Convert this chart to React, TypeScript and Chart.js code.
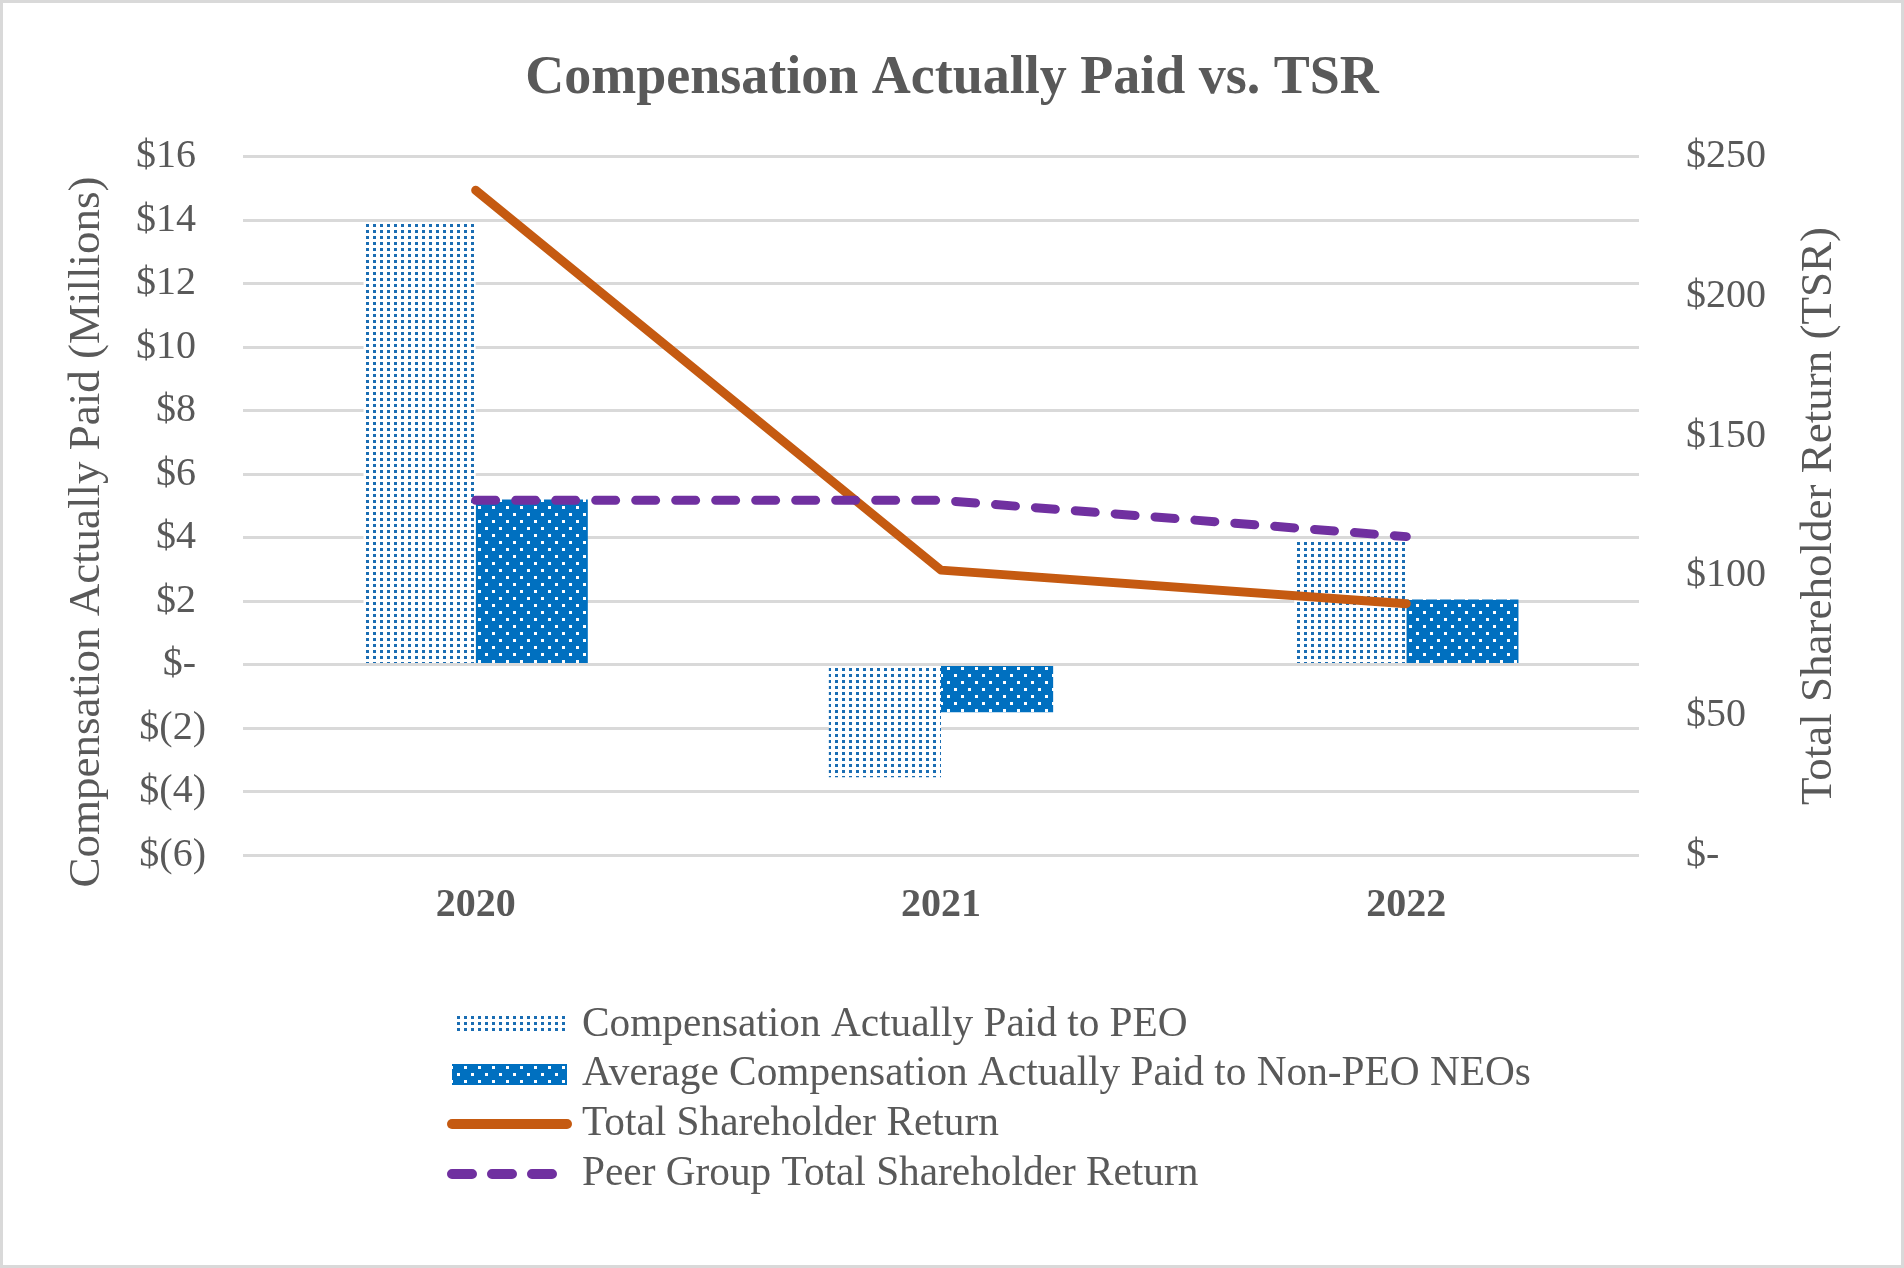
import React, { useEffect, useRef } from 'react';
import { Chart, registerables } from 'chart.js';

Chart.register(...registerables);

const categories = ['2020', '2021', '2022'];
const peoCap = [13.9, -3.55, 3.95];
const neoCap = [5.2, -1.5, 2.05];
const tsrValues = [238, 102, 90];
const peerTsrValues = [127, 127, 114];
const seriesNames = [
  'Compensation Actually Paid to PEO',
  'Average Compensation Actually Paid to Non-PEO NEOs',
  'Total Shareholder Return',
  'Peer Group Total Shareholder Return',
];
const chartTitle = 'Compensation Actually Paid vs. TSR';
const leftAxisTitle = 'Compensation Actually Paid (Millions)';
const rightAxisTitle = 'Total Shareholder Return (TSR)';

const FONT = "'Liberation Serif', 'Times New Roman', serif";
const TEXT = '#595959';
const TSR_COLOR = '#C55A11';
const PEER_COLOR = '#7030A0';

function makePeoPattern(): CanvasPattern | string {
  const c = document.createElement('canvas');
  c.width = 7;
  c.height = 6;
  const g = c.getContext('2d');
  if (!g) return '#9dc3e6';
  g.fillStyle = '#ffffff';
  g.fillRect(0, 0, 7, 6);
  g.fillStyle = '#1a6db3';
  g.fillRect(2, 2, 3, 3);
  return g.createPattern(c, 'repeat') || '#9dc3e6';
}

function makeNeoPattern(): CanvasPattern | string {
  const c = document.createElement('canvas');
  c.width = 14;
  c.height = 14;
  const g = c.getContext('2d');
  if (!g) return '#0070C0';
  g.fillStyle = '#0070C0';
  g.fillRect(0, 0, 14, 14);
  g.fillStyle = '#ffffff';
  g.fillRect(2, 2, 3, 3);
  g.fillRect(9, 9, 3, 3);
  return g.createPattern(c, 'repeat') || '#0070C0';
}

function leftLabel(v: number): string {
  if (v === 0) return '$- ';
  if (v < 0) return `$(${-v})`;
  return `$${v} `;
}

function rightLabel(v: number): string {
  if (v === 0) return '$-';
  return `$${v}`;
}

export default function App() {
  const canvasRef = useRef<HTMLCanvasElement | null>(null);

  useEffect(() => {
    const canvas = canvasRef.current;
    if (!canvas) return;
    const peoPattern = makePeoPattern();
    const neoPattern = makeNeoPattern();

    const extrasPlugin = {
      id: 'customExtras',
      afterDraw(chart: any) {
        const ctx = chart.ctx as CanvasRenderingContext2D;
        ctx.save();
        // axis titles (both read bottom-to-top)
        ctx.fillStyle = TEXT;
        ctx.font = `45px ${FONT}`;
        ctx.textAlign = 'center';
        ctx.textBaseline = 'middle';
        ctx.save();
        ctx.translate(87, 532);
        ctx.rotate(-Math.PI / 2);
        ctx.fillText(leftAxisTitle, 0, 0);
        ctx.restore();
        ctx.save();
        ctx.translate(1819, 516);
        ctx.rotate(-Math.PI / 2);
        ctx.fillText(rightAxisTitle, 0, 0);
        ctx.restore();

        // legend
        const rows = [1025, 1074.5, 1124, 1174];
        ctx.fillStyle = peoPattern as any;
        ctx.fillRect(457, 1016, 109, 18);
        ctx.fillStyle = neoPattern as any;
        ctx.fillRect(452, 1064, 115, 21);
        ctx.lineCap = 'round';
        ctx.lineWidth = 10;
        ctx.strokeStyle = TSR_COLOR;
        ctx.beginPath();
        ctx.moveTo(452, rows[2]);
        ctx.lineTo(567, rows[2]);
        ctx.stroke();
        ctx.strokeStyle = PEER_COLOR;
        ctx.setLineDash([20, 20]);
        ctx.beginPath();
        ctx.moveTo(452, rows[3]);
        ctx.lineTo(567, rows[3]);
        ctx.stroke();
        ctx.setLineDash([]);
        ctx.fillStyle = TEXT;
        ctx.font = `41.3px ${FONT}`;
        ctx.textAlign = 'left';
        ctx.textBaseline = 'middle';
        seriesNames.forEach((name, i) => {
          ctx.fillText(name, 582, rows[i]);
        });
        ctx.restore();
      },
    };

    const chart = new Chart(canvas, {
      type: 'bar',
      data: {
        labels: categories,
        datasets: [
          {
            type: 'bar',
            label: seriesNames[0],
            data: peoCap,
            backgroundColor: peoPattern as any,
            borderWidth: 0,
            yAxisID: 'y',
            order: 2,
            categoryPercentage: 0.482,
            barPercentage: 1,
          },
          {
            type: 'bar',
            label: seriesNames[1],
            data: neoCap,
            backgroundColor: neoPattern as any,
            borderWidth: 0,
            yAxisID: 'y',
            order: 2,
            categoryPercentage: 0.482,
            barPercentage: 1,
          },
          {
            type: 'line',
            label: seriesNames[2],
            data: tsrValues,
            borderColor: TSR_COLOR,
            backgroundColor: TSR_COLOR,
            borderWidth: 9,
            borderCapStyle: 'round',
            borderJoinStyle: 'round',
            pointRadius: 0,
            tension: 0,
            fill: false,
            yAxisID: 'y1',
            order: 1,
          },
          {
            type: 'line',
            label: seriesNames[3],
            data: peerTsrValues,
            borderColor: PEER_COLOR,
            backgroundColor: PEER_COLOR,
            borderWidth: 9,
            borderDash: [20, 20],
            borderCapStyle: 'round',
            borderJoinStyle: 'round',
            pointRadius: 0,
            tension: 0,
            fill: false,
            yAxisID: 'y1',
            order: 0,
          },
        ] as any,
      },
      options: {
        animation: false,
        responsive: true,
        maintainAspectRatio: false,
        events: [],
        layout: { padding: { top: 0, left: 0, right: 0, bottom: 341 } },
        plugins: {
          legend: { display: false },
          tooltip: { enabled: false },
          title: {
            display: true,
            text: chartTitle,
            color: TEXT,
            font: { family: FONT, size: 54, weight: 'bold' },
            padding: { top: 47, bottom: 45 },
          },
        },
        scales: {
          x: {
            grid: { display: false },
            border: { display: false },
            ticks: {
              color: TEXT,
              font: { family: FONT, size: 40, weight: 'bold' },
              padding: 19,
            },
            afterFit: (s: any) => {
              s.height = 72;
            },
          },
          y: {
            position: 'left',
            min: -6,
            max: 16,
            ticks: {
              stepSize: 2,
              color: TEXT,
              font: { family: FONT, size: 40 },
              padding: 37,
              callback: (v: any) => leftLabel(Number(v)),
            },
            grid: { color: '#d9d9d9', lineWidth: 3, drawTicks: false },
            border: { display: false },
            title: { display: false },
            afterFit: (s: any) => {
              s.width = 243;
            },
          },
          y1: {
            position: 'right',
            min: 0,
            max: 250,
            ticks: {
              stepSize: 50,
              color: TEXT,
              font: { family: FONT, size: 40 },
              padding: 47,
              callback: (v: any) => rightLabel(Number(v)),
            },
            grid: { drawOnChartArea: false, drawTicks: false },
            border: { display: false },
            title: { display: false },
            afterFit: (s: any) => {
              s.width = 265;
            },
          },
        },
      } as any,
      plugins: [extrasPlugin],
    });

    return () => {
      chart.destroy();
    };
  }, []);

  return (
    <div style={{ position: 'absolute', left: 0, top: 0, width: 1904, height: 1268, background: '#ffffff' }}>
      <canvas ref={canvasRef} />
      <div
        style={{
          position: 'absolute',
          left: 0,
          top: 0,
          width: 1904,
          height: 1268,
          boxSizing: 'border-box',
          border: '3px solid #d9d9d9',
          pointerEvents: 'none',
        }}
      />
    </div>
  );
}
